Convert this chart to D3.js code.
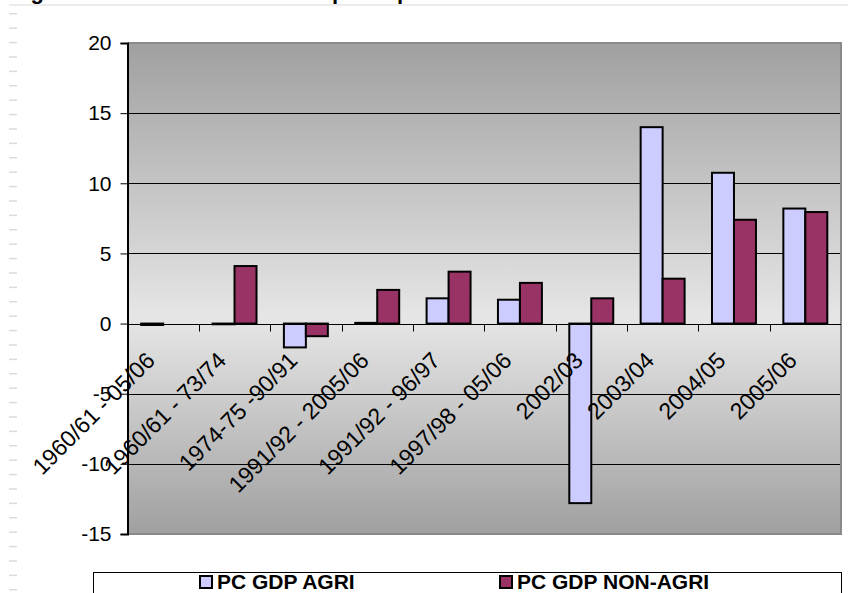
<!DOCTYPE html>
<html><head><meta charset="utf-8">
<script src="https://cdn.jsdelivr.net/npm/d3@7"></script>
<style>body{margin:0;background:#fff;overflow:hidden}svg{display:block}text{font-family:Arial,"Liberation Sans",sans-serif}</style>
</head><body><svg id="c" width="848" height="593"></svg>
<script>
const categories = ["1960/61 - 05/06","1960/61 - 73/74","1974-75 -90/91","1991/92 - 2005/06","1991/92 - 96/97","1997/98 - 05/06","2002/03","2003/04","2004/05","2005/06"];
const seriesNames = ["PC GDP AGRI","PC GDP NON-AGRI"];
const agri = [-0.1, -0.05, -1.7, 0.05, 1.8, 1.7, -12.8, 14.0, 10.75, 8.2];
const nonAgri = [null, 4.1, -0.9, 2.4, 3.7, 2.9, 1.8, 3.2, 7.4, 7.95];
const yTicks = [-15, -10, -5, 0, 5, 10, 15, 20];
const colors = ["#ccccff", "#993366"];
const titleText = "Figure 4: Growth rates of GDP per capita";

const svg = d3.select("#c");
const plot = {l:127.5, r:841, t:43, b:534};
const x0 = d3.scaleBand().domain(categories).range([plot.l, plot.r]).padding(0);
const step = x0.bandwidth();
const x1 = d3.scaleBand().domain(seriesNames).range([step*0.192, step*0.808]);
const y = d3.scaleLinear().domain([-15, 20]).range([plot.b, plot.t]);

// page decoration
svg.append("g").selectAll("rect").data(d3.range(13, 593, 14.4)).join("rect")
  .attr("x", 9).attr("y", d => d).attr("width", 8).attr("height", 1.5).attr("fill", "#dcdcdc");
svg.append("rect").attr("x", 9).attr("y", 4).attr("width", 839).attr("height", 2).attr("fill", "#ececec");
svg.append("text").attr("x", 11).attr("y", -1).attr("font-weight", "bold").attr("font-size", 22).text(titleText);

// background gradient
const defs = svg.append("defs");
const g = defs.append("linearGradient").attr("id", "bg").attr("x1", 0).attr("y1", 0).attr("x2", 0).attr("y2", 1);
g.append("stop").attr("offset", "0%").attr("stop-color", "#a0a0a0");
g.append("stop").attr("offset", "56%").attr("stop-color", "#e6e6e6");
g.append("stop").attr("offset", "100%").attr("stop-color", "#a0a0a0");
svg.append("rect").attr("x", plot.l).attr("y", plot.t).attr("width", plot.r - plot.l).attr("height", plot.b - plot.t).attr("fill", "url(#bg)");

// gridlines
svg.append("g").selectAll("line").data(yTicks.filter(v => v > -15 && v < 20 && v !== 0)).join("line")
  .attr("x1", plot.l).attr("x2", plot.r).attr("y1", d => Math.round(y(d)) + 0.5).attr("y2", d => Math.round(y(d)) + 0.5)
  .attr("stroke", "#000").attr("stroke-width", 1);

// plot border (gray)
svg.append("path").attr("d", `M${plot.l},${plot.t}H${plot.r}V${plot.b}H${plot.l}`)
  .attr("fill", "none").attr("stroke", "#8a8a8a").attr("stroke-width", 2);

// bars
const data = categories.map((c, i) => ({c, vals: [agri[i], nonAgri[i]]}));
const groups = svg.append("g").selectAll("g").data(data).join("g")
  .attr("transform", d => `translate(${x0(d.c)},0)`);
groups.selectAll("rect").data(d => d.vals.map((v, k) => ({v, k})).filter(e => e.v !== null)).join("rect")
  .attr("x", e => x1(seriesNames[e.k]))
  .attr("width", x1.bandwidth())
  .attr("y", e => y(Math.max(0, e.v)))
  .attr("height", e => Math.abs(y(e.v) - y(0)))
  .attr("fill", e => colors[e.k])
  .attr("stroke", "#000").attr("stroke-width", 2);

// zero axis line + category ticks
const zy = Math.round(y(0)) + 0.5;
svg.append("line").attr("x1", plot.l).attr("x2", plot.r).attr("y1", zy).attr("y2", zy).attr("stroke", "#000").attr("stroke-width", 1);
svg.append("g").selectAll("line").data(categories.slice(1)).join("line")
  .attr("x1", d => Math.round(x0(d)) + 0.5).attr("x2", d => Math.round(x0(d)) + 0.5)
  .attr("y1", zy).attr("y2", zy + 7).attr("stroke", "#000");

// y axis
const yAxis = d3.axisLeft(y).tickValues(yTicks).tickSize(7).tickPadding(9).tickFormat(d => String(d));
const ya = svg.append("g").attr("transform", `translate(${plot.l},0)`).call(yAxis);
ya.select(".domain").attr("stroke", "#000").attr("stroke-width", 2);
ya.selectAll(".tick line").attr("stroke", "#000");
ya.selectAll("text").attr("font-size", 21).attr("fill", "#000").attr("font-family", "Arial, 'Liberation Sans', sans-serif");

// x labels
svg.append("g").selectAll("text").data(categories).join("text")
  .attr("transform", d => `translate(${x0(d) + step/2 - 7},${362}) rotate(-45)`)
  .attr("text-anchor", "end").attr("font-size", 23).attr("fill", "#000")
  .text(d => d);

// legend
const leg = svg.append("g");
leg.append("rect").attr("x", 93.5).attr("y", 572.5).attr("width", 748).attr("height", 40)
  .attr("fill", "#fff").attr("stroke", "#000").attr("stroke-width", 1);
const legX = [200, 500];
seriesNames.forEach((s, k) => {
  leg.append("rect").attr("x", legX[k]).attr("y", 576).attr("width", 12).attr("height", 12)
    .attr("fill", colors[k]).attr("stroke", "#000").attr("stroke-width", 2);
  leg.append("text").attr("x", legX[k] + 17).attr("y", 589).attr("font-size", 21).attr("font-weight", "bold").text(s);
});
</script></body></html>
